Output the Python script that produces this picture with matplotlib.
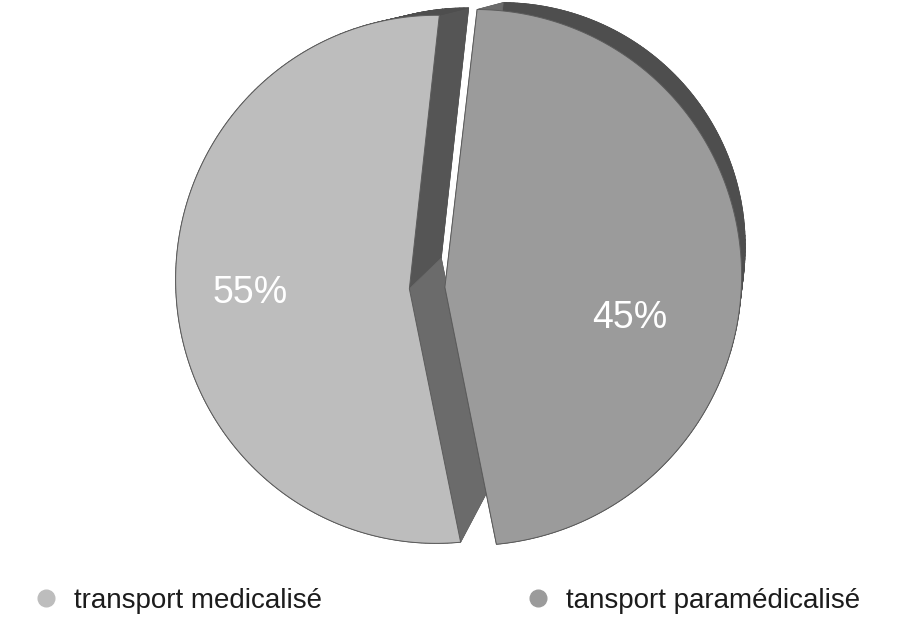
import numpy as np
import matplotlib
matplotlib.use('Agg')
import matplotlib.pyplot as plt
from matplotlib.patches import Polygon
from matplotlib.lines import Line2D

plt.rcParams['font.family'] = 'Liberation Sans'

# données
labels = ['transport medicalisé', 'tansport paramédicalisé']
parts = [55, 45]
pct_labels = ['55%', '45%']
face_colors = ['#bdbdbd', '#9b9b9b']

# camembert 3D : projection du disque unité sur la page (en pixels)
cx, cy = 427, 288
sx, sy = 261.5, 264.2
gx, gy = -0.1044, -0.0359          # effet de perspective
vp = np.array([785.0, -72.0])      # point de fuite de l'épaisseur
lam = 0.915                        # échelle de la face arrière
start = 83.5
explode = 0.068
rim_color = '#4e4e4e'
cut_colors = ['#555555', '#6b6b6b']
label_shift = [-1.0, -12.0]        # décalage angulaire des pourcentages
label_r = 0.66


def proj(u, v):
    w = 1 + gx * u + gy * v
    return np.column_stack([cx + sx * u / w, cy - sy * v / w])


fracs = np.array(parts) / sum(parts)
edges = start + 360 * np.concatenate([[0], np.cumsum(fracs)])

fig = plt.figure(figsize=(9.05, 6.2), dpi=100)
ax = fig.add_axes([0, 0, 1, 1])
ax.set_xlim(0, 905)
ax.set_ylim(620, 0)
ax.axis('off')

for i in range(len(parts)):
    a0, a1 = edges[i], edges[i + 1]
    mid = np.radians((a0 + a1) / 2)
    du, dv = explode * np.cos(mid), explode * np.sin(mid)
    t = np.radians(np.linspace(a0, a1, 200))
    u = np.concatenate([[0], np.cos(t), [0]]) + du
    v = np.concatenate([[0], np.sin(t), [0]]) + dv
    front = proj(u, v)
    back = vp + lam * (front - vp)
    z = 1 + 2 * i

    # épaisseur : face arrière + parois
    ax.add_patch(Polygon(back, closed=True, fc=rim_color, ec=rim_color, lw=0.5, zorder=z))
    n = len(front) - 1
    for k in range(n):
        quad = np.array([front[k], front[k + 1], back[k + 1], back[k]])
        if k == 0:
            c = cut_colors[0]
        elif k == n - 1:
            c = cut_colors[1]
        else:
            c = rim_color
        ax.add_patch(Polygon(quad, closed=True, fc=c, ec=c, lw=0.5, zorder=z))

    # face avant
    ax.add_patch(Polygon(front[:-1], closed=True, fc=face_colors[i], ec='#5c5c5c',
                         lw=0.7, zorder=z + 1))

    a = np.radians(np.degrees(mid) + label_shift[i])
    p = proj(np.array([label_r * np.cos(a) + du]), np.array([label_r * np.sin(a) + dv]))[0]
    ax.text(p[0], p[1], pct_labels[i], color='white', fontsize=27,
            ha='center', va='center', zorder=10)

handles = [Line2D([], [], ls='', marker='o', ms=12, mfc=c, mec=c) for c in face_colors]
ax.legend(handles, labels, loc='center left', bbox_to_anchor=(0.0355, 0.031),
          ncol=2, frameon=False, fontsize=20, labelcolor='#1c1c1c',
          handlelength=1.0, handletextpad=0.5, columnspacing=7.3,
          borderpad=0, borderaxespad=0)

plt.savefig('out.png', dpi=100)
